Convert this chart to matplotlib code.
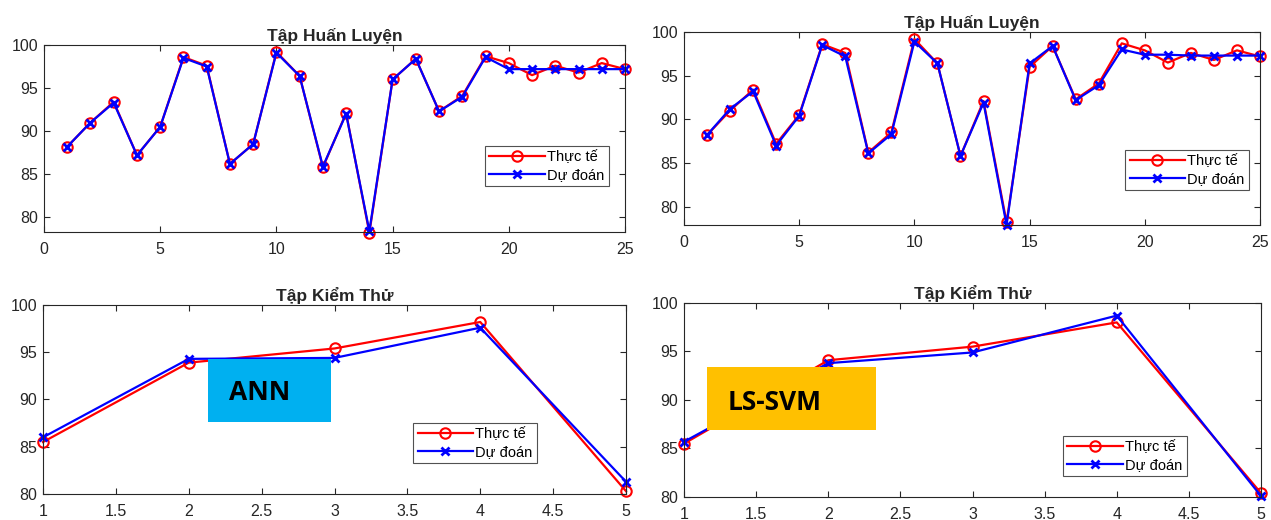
import numpy as np
import matplotlib
matplotlib.use('Agg')
import matplotlib.pyplot as plt
from matplotlib.patches import Rectangle

plt.rcParams['font.family'] = ['Liberation Sans', 'DejaVu Sans']

# training set (25 samples)
train_x = np.arange(1, 26)
train_actual = [88.2, 91.0, 93.4, 87.2, 90.5, 98.6, 97.6, 86.2, 88.5, 99.2,
                96.4, 85.8, 92.1, 78.2, 96.0, 98.4, 92.3, 94.1, 98.7, 97.9,
                96.5, 97.6, 96.8, 97.9, 97.2]
train_ann = [88.2, 91.0, 93.3, 87.2, 90.5, 98.5, 97.5, 86.2, 88.5, 99.1,
             96.4, 85.9, 92.0, 78.4, 96.0, 98.4, 92.3, 94.0, 98.6, 97.2,
             97.2, 97.2, 97.2, 97.2, 97.2]
train_svm = [88.2, 91.2, 93.2, 87.0, 90.4, 98.5, 97.2, 86.1, 88.3, 98.9,
             96.4, 85.8, 91.9, 77.9, 96.4, 98.4, 92.2, 93.9, 98.0, 97.4,
             97.4, 97.3, 97.3, 97.3, 97.3]

# test set (5 samples)
test_x = np.arange(1, 6)
test_actual_ann = [85.5, 93.9, 95.4, 98.2, 80.3]
test_ann = [86.0, 94.3, 94.4, 97.6, 81.3]
test_actual_svm = [85.5, 94.1, 95.5, 98.0, 80.4]
test_svm = [85.7, 93.8, 94.9, 98.7, 80.1]

title_train = 'Tập Huấn Luyện'
title_test = 'Tập Kiểm Thử'
labels = ['Thực tế', 'Dự đoán']

fig = plt.figure(figsize=(12.71, 5.2), dpi=100)
W, H = 1271, 520


def make_ax(l, t, r, b):
    return fig.add_axes([l / W, 1 - b / H, (r - l) / W, (b - t) / H])


def style(ax):
    ax.tick_params(direction='in', top=True, right=True, labelsize=11.5,
                   colors='#262626', length=4, width=0.8, pad=4)
    ax.tick_params(axis='x', pad=7)
    for s in ax.spines.values():
        s.set_color('#262626')
        s.set_linewidth(0.8)


def draw(ax, x, actual, pred, title, loc):
    ax.plot(x, actual, '-o', color='red', lw=1.6, ms=7.5, mfc='none', mew=1.5, label=labels[0])
    ax.plot(x, pred, '-x', color='blue', lw=1.6, ms=6, mew=2, label=labels[1])
    ax.set_title(title, fontsize=12.5, fontweight='bold', color='#262626', pad=3)
    style(ax)
    leg = ax.legend(loc='upper left', bbox_to_anchor=loc, fontsize=10.5, frameon=True,
                    fancybox=False, edgecolor='#262626', handlelength=3.8,
                    borderpad=0.3, labelspacing=0.25, handletextpad=0.15,
                    borderaxespad=0)
    leg.get_frame().set_linewidth(0.8)


ax1 = make_ax(44, 45, 625, 232)
draw(ax1, train_x, train_actual, train_ann, title_train, (0.759, 0.46))
ax1.set_xlim(0, 25)
ax1.set_ylim(78.3, 100)
ax1.set_xticks(range(0, 26, 5))
ax1.set_yticks(range(80, 101, 5))

ax2 = make_ax(684, 32, 1260, 225)
draw(ax2, train_x, train_actual, train_svm, title_train, (0.766, 0.389))
ax2.set_xlim(0, 25)
ax2.set_ylim(77.9, 100)
ax2.set_xticks(range(0, 26, 5))
ax2.set_yticks(range(80, 101, 5))

ax3 = make_ax(43, 305, 626, 494)
draw(ax3, test_x, test_actual_ann, test_ann, title_test, (0.635, 0.376))
ax3.set_xlim(1, 5)
ax3.set_ylim(80, 100)
ax3.set_xticks(np.arange(1, 5.01, 0.5))
ax3.set_xticklabels(['1', '1.5', '2', '2.5', '3', '3.5', '4', '4.5', '5'])
ax3.set_yticks(range(80, 101, 5))

ax4 = make_ax(684, 303, 1261, 497)
draw(ax4, test_x, test_actual_svm, test_svm, title_test, (0.657, 0.314))
ax4.set_xlim(1, 5)
ax4.set_ylim(80, 100)
ax4.set_xticks(np.arange(1, 5.01, 0.5))
ax4.set_xticklabels(['1', '1.5', '2', '2.5', '3', '3.5', '4', '4.5', '5'])
ax4.set_yticks(range(80, 101, 5))

for a in (ax1, ax2, ax3, ax4):
    for ln in a.lines:
        ln.set_clip_on(False)

# overlay labels
fig.patches.append(Rectangle((208 / W, 1 - 422 / H), 123 / W, 63 / H,
                             transform=fig.transFigure, facecolor='#00B0F0',
                             edgecolor='none', zorder=10))
fig.text(229 / W, 1 - 392 / H, 'ANN', fontsize=19, fontweight='bold',
         va='center', ha='left', family=['Open Sans', 'DejaVu Sans'], zorder=11)
fig.patches.append(Rectangle((707 / W, 1 - 430 / H), 169 / W, 63 / H,
                             transform=fig.transFigure, facecolor='#FFC000',
                             edgecolor='none', zorder=10))
fig.text(728 / W, 1 - 402 / H, 'LS-SVM', fontsize=19, fontweight='bold',
         va='center', ha='left', family=['Open Sans', 'DejaVu Sans'], zorder=11)

fig.savefig('out.png', dpi=100)
